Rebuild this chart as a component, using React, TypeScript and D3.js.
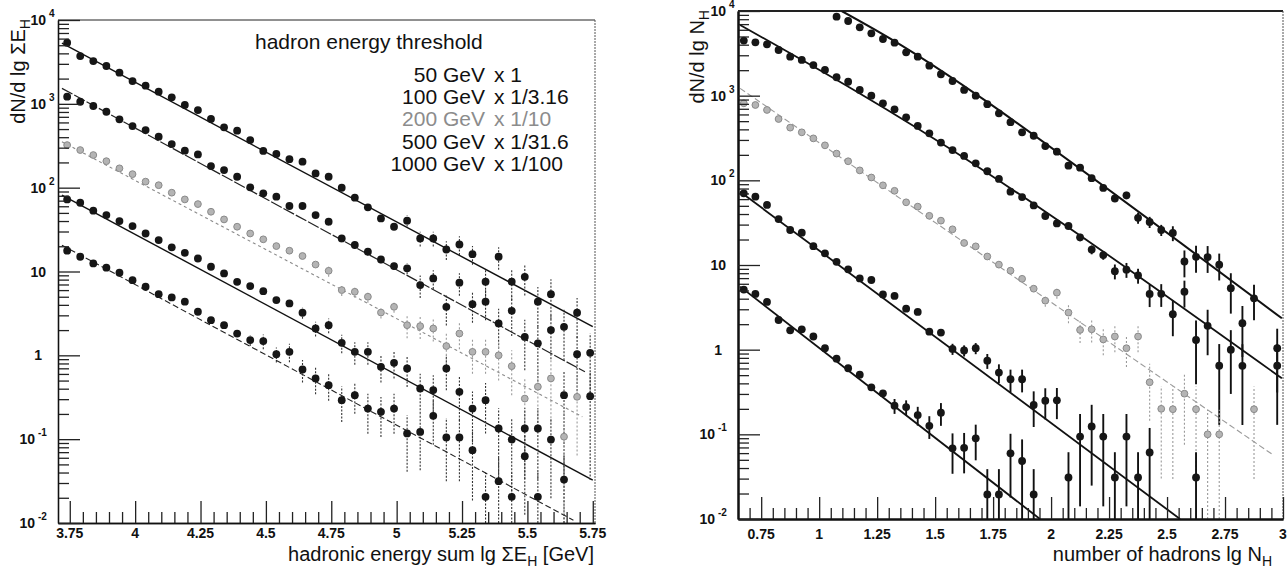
import React, { useEffect, useRef } from 'react';
import * as d3 from 'd3';

// ---------- left panel: hadronic energy sum (bin centres in lg ΣE_H) ----------
const energyBins = [
  3.74, 3.79, 3.84, 3.89, 3.94, 3.99, 4.04, 4.09, 4.14, 4.19, 4.24, 4.29, 4.34, 4.39,
  4.44, 4.49, 4.54, 4.59, 4.64, 4.69, 4.74, 4.79, 4.84, 4.89, 4.94, 4.99, 5.04, 5.09,
  5.14, 5.19, 5.24, 5.29, 5.34, 5.39, 5.44, 5.49, 5.54, 5.59, 5.64, 5.69, 5.74,
];

const energy50 = [
  5360, 3715, 3240, 2825, 2355, 1870, 1645, 1395, 1195, 968, 843, 659, 524, 478, 370,
  274, 252, 219, 204, 148, 135, 99.8, 75.9, 58.2, 43.0, 34.2, 40.4, 24.8, 24.8, 18.3,
  21.0, 16.1, 7.55, 15.0, 7.55, 8.65, 4.36, 5.37, 2.19, 3.22, 1.07,
];
const energy100 = [
  1216, 1059, 942, 805, 653, 543, 486, 406, 331, 276, 249, 181, 162, 135, 101, 85.5,
  78.0, 60.4, 60.4, 47.1, 39.3, 24.8, 20.7, 17.2, 13.9, 11.6, 10.9, 6.89, 8.26, 3.79,
  7.35, 4.08, 4.36, 2.40, 3.40, 1.66, 1.39, 2.00, 0.335, 1.03, 0.326,
];
const energy200 = [
  322, 281, 245, 207, 170, 145, 118, 107, 87.1, 72.4, 63.7, 51.6, 41.8, 34.2, 28.4,
  24.2, 20.1, 17.7, 15.3, 12.1, 10.2, 6.0, 5.73, 5.0, 3.24, 3.79, 2.29, 2.23, 2.09,
  1.29, 1.82, 1.10, 1.10, 1.00, 0.743, 0.305, 0.422, 0.530, 0.107, 0.320, null,
];
const energy500 = [
  72.4, 66.1, 53.1, 47.1, 39.9, 34.8, 28.4, 23.7, 19.4, 16.7, 14.3, 11.4, 9.48, 7.53,
  6.70, 5.83, 4.56, 4.16, 3.22, 2.09, 2.29, 1.41, 1.10, 1.10, 0.730, 0.815, 0.697,
  0.403, 0.385, 0.697, 0.367, 0.232, 0.292, 0.134, 0.099, 0.134, 0.134, 0.099, 0.033,
  null, null,
];
const energy1000 = [
  17.7, 15.0, 12.5, 11.1, 9.66, 7.89, 6.58, 5.37, 4.91, 4.36, 3.31, 2.63, 2.29, 1.82,
  1.52, 1.48, 1.03, 1.10, 0.678, 0.530, 0.441, 0.292, 0.335, 0.232, 0.212, 0.232,
  0.117, 0.122, 0.190, 0.105, 0.105, 0.074, 0.0205, 0.0315, 0.0205, 0.0626, 0.0205,
  null, null, null, null,
];

// relative errors
const energyErr50 = [
  0, 0, 0, 0, 0, 0, 0, 0, 0, 0, 0, 0, 0, 0, 0, 0, 0, 0, 0, 0,
  0.08, 0.08, 0.08, 0.08, 0.08, 0.08, 0.15, 0.2, 0.2, 0.25, 0.25, 0.25,
  0.4, 0.3, 0.4, 0.4, 0.5, 0.5, 0.6, 0.5, 0.7,
];
const energyErr100 = [
  0, 0, 0, 0, 0, 0, 0, 0, 0, 0, 0, 0, 0, 0, 0, 0, 0, 0, 0, 0,
  0.1, 0.1, 0.1, 0.1, 0.1, 0.1, 0.15, 0.3, 0.25, 0.4, 0.3, 0.4, 0.4, 0.5, 0.5,
  0.6, 0.65, 0.55, 0.9, 0.7, 0.9,
];
const energyErr200 = [
  0, 0, 0, 0, 0, 0, 0, 0, 0, 0, 0, 0, 0, 0, 0, 0, 0, 0, 0, 0,
  0.15, 0.15, 0.15, 0.15, 0.15, 0.15, 0.3, 0.3, 0.3, 0.45, 0.35, 0.45,
  0.45, 0.5, 0.55, 0.8, 0.7, 0.7, 0.95, 0.8, 0,
];
const energyErr500 = [
  0, 0, 0, 0, 0, 0, 0, 0, 0, 0, 0, 0, 0, 0, 0, 0, 0, 0,
  0.15, 0.2, 0.2, 0.25, 0.3, 0.3, 0.35, 0.35, 0.4, 0.5, 0.5, 0.45, 0.55,
  0.6, 0.6, 0.75, 0.8, 0.75, 0.75, 0.8, 0.95, 0, 0,
];
const energyErr1000 = [
  0, 0, 0, 0, 0, 0, 0, 0, 0, 0, 0, 0, 0, 0,
  0.15, 0.2, 0.2, 0.25, 0.3, 0.35, 0.35, 0.45, 0.4, 0.5, 0.5, 0.5, 0.65,
  0.65, 0.55, 0.7, 0.7, 0.75, 0.95, 0.9, 0.95, 0.8, 0.95, 0, 0, 0, 0,
];

// fitted curves, as (x, y) nodes
const energyFits = [
  [[3.72, 5300], [5.75, 2.2]],
  [[3.72, 1530], [5.72, 0.636]],
  [[3.72, 353], [5.71, 0.185]],
  [[3.72, 81.7], [5.75, 0.0324]],
  [[3.72, 20.6], [5.676, 0.0108]],
];

const thresholdLabels = ['50 GeV', '100 GeV', '200 GeV', '500 GeV', '1000 GeV'];
const scaleLabels = ['x 1', 'x 1/3.16', 'x 1/10', 'x 1/31.6', 'x 1/100'];

const energyTicks = [3.75, 4, 4.25, 4.5, 4.75, 5, 5.25, 5.5, 5.75];
const energyTickLabels = ['3.75', '4', '4.25', '4.5', '4.75', '5', '5.25', '5.5', '5.75'];

// ---------- right panel: number of hadrons (bin centres in lg N_H) ----------
const hadronBins = [
  0.675, 0.725, 0.775, 0.825, 0.875, 0.925, 0.975, 1.025, 1.075, 1.125, 1.175, 1.225,
  1.275, 1.325, 1.375, 1.425, 1.475, 1.525, 1.575, 1.625, 1.675, 1.725, 1.775, 1.825,
  1.875, 1.925, 1.975, 2.025, 2.075, 2.125, 2.175, 2.225, 2.275, 2.325, 2.375, 2.425,
  2.475, 2.525, 2.575, 2.625, 2.675, 2.725, 2.775, 2.825, 2.875, 2.925, 2.975,
];

const hadron50 = [
  null, null, null, null, null, null, null, null,
  8570, 7620, 6410, 5450, 4670, 4230, 3250, 2890, 2260, 1790, 1490, 1170, 1000, 794,
  618, 486, 369, 336, 254, 218, 149, 141, 106, 81.3, 61.2, 66.5, 36.1, 32.2, 25.9,
  23.9, 11.0, 12.5, 12.4, 10.1, 5.33, 2.05, 4.04, null, 1.04,
];
const hadron100 = [
  4470, 4270, 4036, 3460, 2890, 2640, 2300, 2010, 1650, 1460, 1170, 1000, 813, 690,
  555, 439, 359, 279, 228, 194, 159, 128, 104, 73.5, 63.5, 50.5, 37.9, 31.0, 28.9,
  21.2, 15.2, 13.1, 8.45, 8.81, 7.52, 4.55, 4.57, 2.62, 4.84, 1.30, 1.91, 0.647, 1.0,
  0.644, null, null, 0.647,
];
const hadron200 = [
  813, 776, 678, 530, 419, 369, 313, 259, 207, 168, 131, 108, 87.3, 75.2, 55.0, 48.9,
  38.1, 33.4, 26.4, 18.2, 16.6, 12.6, 10.1, 8.57, 6.87, 5.25, 3.79, 4.71, 2.74, 1.71,
  1.74, 1.32, 1.43, 1.04, 1.43, 0.412, 0.200, 0.198, 0.302, 0.198, 0.100, 0.100,
  null, null, 0.198, null, null,
];
const hadron500 = [
  70.3, 64.1, 51.2, 34.9, 25.9, 24.1, 16.7, 13.7, 10.9, 8.89, 6.95, 6.65, 4.49, 4.31,
  3.05, 2.79, 1.63, 1.59, 1.02, 0.977, 1.04, 0.741, 0.537, 0.447, 0.447, 0.222, 0.250,
  0.252, 0.0309, 0.094, 0.124, 0.094, 0.0309, 0.094, 0.0309, 0.061, null, null, null,
  0.0309, null, null, null, null, null, null, null,
];
const hadron1000 = [
  5.12, 4.55, 3.66, 2.24, 1.69, 1.74, 1.43, 1.04, 0.783, 0.603, 0.507, 0.359, 0.305,
  0.218, 0.210, 0.169, 0.126, 0.180, 0.0684, 0.0692, 0.0897, 0.0195, 0.0195, 0.0597,
  0.0484, 0.0195, null, null, null, null, null, null, null, null, null, null, null,
  null, null, null, null, null, null, null, null, null, null,
];

const hadronErr50 = [
  0, 0, 0, 0, 0, 0, 0, 0, 0, 0, 0, 0, 0, 0, 0, 0, 0, 0, 0, 0, 0, 0, 0, 0, 0, 0, 0, 0,
  0, 0, 0, 0.08, 0.1, 0.1, 0.15, 0.15, 0.15, 0.2, 0.35, 0.35, 0.35, 0.35, 0.5, 0.6,
  0.45, 0, 0.7,
];
const hadronErr100 = [
  0, 0, 0, 0, 0, 0, 0, 0, 0, 0, 0, 0, 0, 0, 0, 0, 0, 0, 0, 0, 0, 0, 0, 0, 0, 0, 0, 0,
  0, 0.1, 0.12, 0.12, 0.2, 0.2, 0.2, 0.3, 0.3, 0.45, 0.35, 0.7, 0.55, 0.8, 0.7, 0.8,
  0, 0, 0.8,
];
const hadronErr200 = [
  0, 0, 0, 0, 0, 0, 0, 0, 0, 0, 0, 0, 0, 0, 0, 0, 0, 0, 0, 0, 0, 0, 0, 0, 0, 0,
  0.15, 0.15, 0.25, 0.3, 0.3, 0.35, 0.35, 0.4, 0.35, 0.65, 0.85, 0.85, 0.75, 0.85,
  0.95, 0.95, 0, 0, 0.85, 0, 0,
];
const hadronErr500 = [
  0, 0, 0, 0, 0, 0, 0, 0, 0, 0, 0, 0, 0, 0, 0, 0, 0, 0,
  0.15, 0.15, 0.15, 0.2, 0.25, 0.3, 0.3, 0.45, 0.4, 0.4, 0.99, 0.85, 0.8, 0.85, 0.99,
  0.85, 0.99, 0.95, 0, 0, 0, 0.99, 0, 0, 0, 0, 0, 0, 0,
];
const hadronErr1000 = [
  0, 0, 0, 0, 0, 0, 0, 0, 0, 0, 0, 0, 0, 0.2, 0.2, 0.25, 0.3, 0.3, 0.5, 0.5, 0.45,
  0.99, 0.99, 0.7, 0.8, 0.99, 0, 0, 0, 0, 0, 0, 0, 0, 0, 0, 0, 0, 0, 0, 0, 0, 0, 0,
  0, 0, 0,
];

const hadronFits = [
  [[1.097, 10000], [1.723, 849], [2.995, 2.35]],
  [[0.659, 6840], [1.694, 139], [2.995, 0.459]],
  [[0.659, 1220], [2.958, 0.057]],
  [[0.659, 73.4], [2.556, 0.01]],
  [[0.659, 5.55], [1.952, 0.01]],
];

const hadronTicks = [0.75, 1, 1.25, 1.5, 1.75, 2, 2.25, 2.5, 2.75, 3];
const hadronTickLabels = ['0.75', '1', '1.25', '1.5', '1.75', '2', '2.25', '2.5', '2.75', '3'];

// shared log axis
const yTicks = [1e-2, 1e-1, 1, 10, 1e2, 1e3, 1e4];
const yTickBase = ['10', '10', '1', '10', '10', '10', '10'];
const yTickExp = ['-2', '-1', '', '', '2', '3', '4'];

const FONT = '"Liberation Sans", Arial, Helvetica, sans-serif';

function drawPanel(svg: any, p: any) {
  const x = d3.scaleLinear().domain(p.xDomain).range([p.left, p.right]);
  const y = d3.scaleLog().domain([1e-2, 1e4]).range([p.bottom, p.top]);
  const g = svg.append('g');

  g.append('clipPath')
    .attr('id', p.id)
    .append('rect')
    .attr('x', p.left)
    .attr('y', p.top)
    .attr('width', p.right - p.left)
    .attr('height', p.bottom - p.top);

  // frame (top / right)
  g.append('line')
    .attr('x1', p.left).attr('x2', p.right).attr('y1', p.top).attr('y2', p.top)
    .attr('stroke', '#222').attr('stroke-width', p.topWidth);
  g.append('line')
    .attr('x1', p.right).attr('x2', p.right).attr('y1', p.top).attr('y2', p.bottom)
    .attr('stroke', '#555').attr('stroke-width', 1).attr('stroke-dasharray', '2,1');

  const plot = g.append('g').attr('clip-path', `url(#${p.id})`);

  const line = d3
    .line<number[]>()
    .x((d) => x(d[0]))
    .y((d) => y(d[1]))
    .curve(d3.curveNatural);

  p.fits.forEach((f: number[][], k: number) => {
    const st = p.fitStyles[k];
    plot
      .append('path')
      .attr('d', line(f))
      .attr('fill', 'none')
      .attr('stroke', st.color)
      .attr('stroke-width', st.width)
      .attr('stroke-dasharray', st.dash || null);
  });

  p.series.forEach((s: any) => {
    const pts = p.bins
      .map((b: number, i: number) => ({ x: b, v: s.values[i], e: s.errors[i] }))
      .filter((d: any) => d.v != null);

    plot
      .selectAll(null)
      .data(pts.filter((d: any) => d.e > 0))
      .enter()
      .append('line')
      .attr('x1', (d: any) => x(d.x))
      .attr('x2', (d: any) => x(d.x))
      .attr('y1', (d: any) => y(Math.max(d.v * (1 - d.e), 1e-2)))
      .attr('y2', (d: any) => y(d.v * (1 + d.e)))
      .attr('stroke', s.gray ? '#9a9a9a' : p.errColor)
      .attr('stroke-width', s.gray ? 1.1 : p.errWidth)
      .attr('stroke-dasharray', s.gray ? '2,2' : p.errDash);

    plot
      .selectAll(null)
      .data(pts)
      .enter()
      .append('circle')
      .attr('cx', (d: any) => x(d.x))
      .attr('cy', (d: any) => y(d.v))
      .attr('r', s.gray ? 3.4 : 3.9)
      .attr('fill', s.gray ? '#b4b4b4' : '#161616')
      .attr('stroke', s.gray ? '#8a8a8a' : 'none')
      .attr('stroke-width', 1);
  });

  // axes with inward ticks
  const minorX = d3
    .range(p.minorStart, p.xDomain[1], 0.05)
    .filter((v) => Math.abs(v * 4 - Math.round(v * 4)) > 1e-6);
  const minorY: number[] = [];
  [-2, -1, 0, 1, 2, 3].forEach((k) => {
    for (let m = 2; m <= 9; m++) minorY.push(m * Math.pow(10, k));
  });

  const styleAxis = (sel: any) => {
    sel.select('.domain').attr('stroke', '#111').attr('stroke-width', p.axisWidth);
    sel.selectAll('.tick line').attr('stroke', '#222').attr('stroke-width', 1.3);
  };

  g.append('g')
    .attr('transform', `translate(0,${p.bottom})`)
    .call(d3.axisBottom(x).tickValues(minorX).tickSize(-11).tickSizeOuter(0).tickFormat(() => ''))
    .call(styleAxis);
  g.append('g')
    .attr('transform', `translate(0,${p.bottom})`)
    .call(d3.axisBottom(x).tickValues(p.xTicks).tickSize(-22).tickSizeOuter(0).tickFormat(() => ''))
    .call(styleAxis);
  g.append('g')
    .attr('transform', `translate(${p.left},0)`)
    .call(d3.axisLeft(y).tickValues(minorY).tickSize(-11).tickSizeOuter(0).tickFormat(() => ''))
    .call(styleAxis);
  g.append('g')
    .attr('transform', `translate(${p.left},0)`)
    .call(d3.axisLeft(y).tickValues(yTicks).tickSize(-22).tickSizeOuter(0).tickFormat(() => ''))
    .call(styleAxis);

  // x tick labels
  g.selectAll(null)
    .data(p.xTicks)
    .enter()
    .append('text')
    .attr('x', (d: number) => x(d))
    .attr('y', p.bottom + p.xLabelGap)
    .attr('text-anchor', 'middle')
    .attr('font-family', FONT)
    .attr('font-size', 14)
    .attr('font-weight', 'bold')
    .attr('fill', '#111')
    .text((d: number, i: number) => p.xTickLabels[i]);

  // y tick labels with superscripts
  yTicks.forEach((t, i) => {
    const yy = y(t) + 5;
    const neg = yTickExp[i].startsWith('-');
    const endX = yTickBase[i] === '1' ? p.left - 16 : neg ? p.left - 23 : p.left - 12;
    g.append('text')
      .attr('x', endX)
      .attr('y', yy)
      .attr('text-anchor', 'end')
      .attr('font-family', FONT)
      .attr('font-size', 14)
      .attr('font-weight', 'bold')
      .attr('fill', '#111')
      .text(yTickBase[i]);
    if (yTickExp[i]) {
      g.append('text')
        .attr('x', endX + 3)
        .attr('y', yy - 8)
        .attr('font-family', FONT)
        .attr('font-size', 10)
        .attr('font-weight', 'bold')
        .attr('fill', '#111')
        .text(yTickExp[i]);
    }
  });

  // x title
  const xt = g
    .append('text')
    .attr('x', p.xTitleX)
    .attr('y', p.xTitleY)
    .attr('text-anchor', 'end')
    .attr('font-family', FONT)
    .attr('font-size', 20)
    .attr('fill', '#111');
  xt.append('tspan').text(p.xTitle[0]);
  xt.append('tspan').attr('dy', 5).attr('font-size', 14).text('H');
  if (p.xTitle[1]) xt.append('tspan').attr('dy', -5).text(p.xTitle[1]);

  // y title
  const yt = g
    .append('text')
    .attr('transform', `translate(${p.yTitleX},${p.top - 1}) rotate(-90)`)
    .attr('text-anchor', 'end')
    .attr('font-family', FONT)
    .attr('font-size', 20)
    .attr('fill', '#111');
  yt.append('tspan').text(p.yTitle);
  yt.append('tspan').attr('dy', 5).attr('font-size', 14).text('H');
}

const App = () => {
  const ref = useRef<SVGSVGElement | null>(null);

  useEffect(() => {
    const svg = d3.select(ref.current);
    svg.selectAll('*').remove();

    drawPanel(svg, {
      id: 'clip-energy',
      left: 58,
      right: 595,
      top: 20,
      bottom: 523,
      xDomain: [3.705, 5.7585],
      minorStart: 3.75,
      bins: energyBins,
      series: [
        { values: energy50, errors: energyErr50 },
        { values: energy100, errors: energyErr100 },
        { values: energy200, errors: energyErr200, gray: true },
        { values: energy500, errors: energyErr500 },
        { values: energy1000, errors: energyErr1000 },
      ],
      fits: energyFits,
      fitStyles: [
        { color: '#111', width: 1.4 },
        { color: '#222', width: 1.2, dash: '12,2' },
        { color: '#8a8a8a', width: 1.1, dash: '3,3' },
        { color: '#111', width: 1.4 },
        { color: '#222', width: 1.1, dash: '6,3' },
      ],
      errColor: '#333',
      errWidth: 1.1,
      errDash: '2,1.5',
      axisWidth: 1.3,
      topWidth: 1,
      xTicks: energyTicks,
      xTickLabels: energyTickLabels,
      xLabelGap: 15,
      xTitle: ['hadronic energy sum lg \u03A3E', ' [GeV]'],
      xTitleX: 594,
      xTitleY: 561,
      yTitle: 'dN/d lg \u03A3E',
      yTitleX: 25,
    });

    drawPanel(svg, {
      id: 'clip-hadron',
      left: 738,
      right: 1283,
      top: 11,
      bottom: 519,
      xDomain: [0.65, 3.0],
      minorStart: 0.7,
      bins: hadronBins,
      series: [
        { values: hadron50, errors: hadronErr50 },
        { values: hadron100, errors: hadronErr100 },
        { values: hadron200, errors: hadronErr200, gray: true },
        { values: hadron500, errors: hadronErr500 },
        { values: hadron1000, errors: hadronErr1000 },
      ],
      fits: hadronFits,
      fitStyles: [
        { color: '#111', width: 2 },
        { color: '#111', width: 1.8 },
        { color: '#9a9a9a', width: 1.1, dash: '6,3' },
        { color: '#111', width: 1.8 },
        { color: '#111', width: 1.8 },
      ],
      errColor: '#111',
      errWidth: 1.9,
      errDash: null,
      axisWidth: 2,
      topWidth: 2,
      xTicks: hadronTicks,
      xTickLabels: hadronTickLabels,
      xLabelGap: 20,
      xTitle: ['number of hadrons lg N', ''],
      xTitleX: 1272,
      xTitleY: 561,
      yTitle: 'dN/d lg N',
      yTitleX: 704,
    });

    // legend of the left panel
    const leg = svg.append('g').attr('font-family', FONT).attr('font-size', 21);
    leg
      .append('text')
      .attr('x', 255)
      .attr('y', 49)
      .attr('fill', '#111')
      .text('hadron energy threshold');
    thresholdLabels.forEach((t, i) => {
      const yy = 82 + i * 22.2;
      const col = i === 2 ? '#8c8c8c' : '#111';
      leg.append('text').attr('x', 485).attr('y', yy).attr('text-anchor', 'end').attr('fill', col).text(t);
      leg.append('text').attr('x', 494).attr('y', yy).attr('fill', col).text(scaleLabels[i]);
    });
  }, []);

  return (
    <svg
      ref={ref}
      width={1288}
      height={574}
      style={{ position: 'absolute', left: 0, top: 0, background: '#fff' }}
    />
  );
};

export default App;
